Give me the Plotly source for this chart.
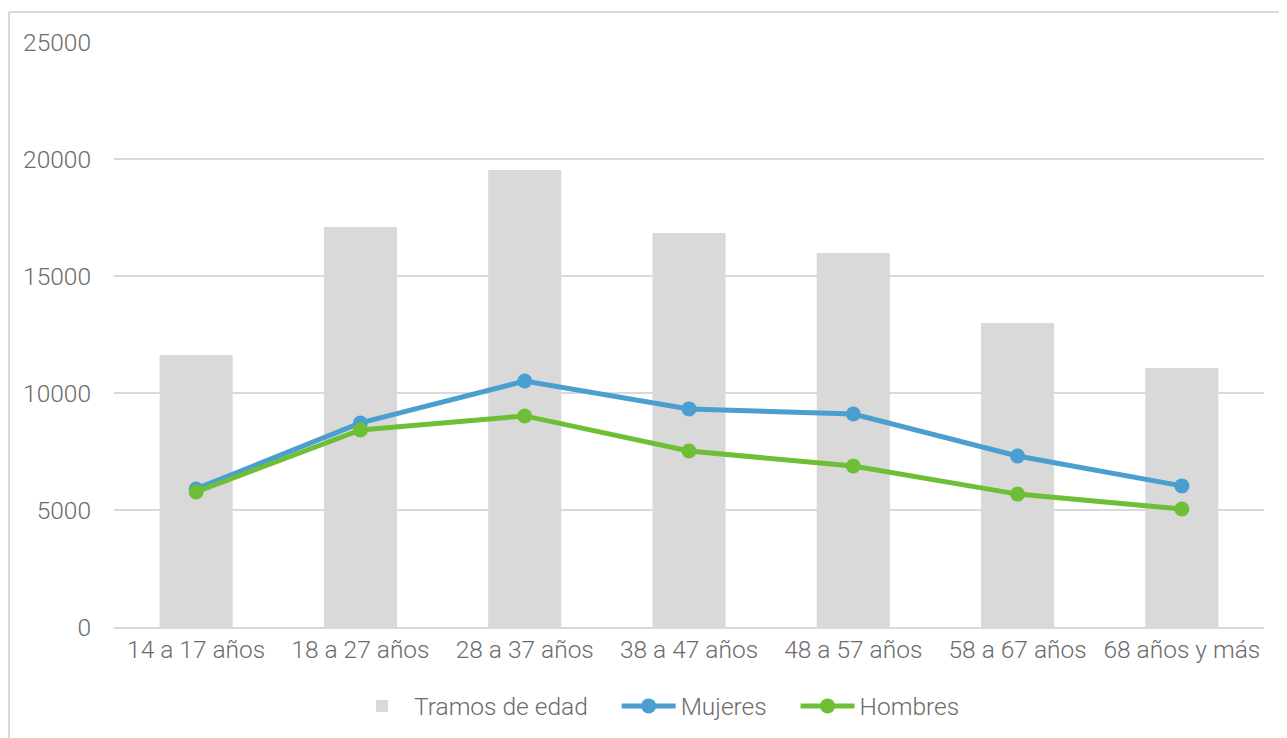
import plotly.graph_objects as go

categorias = ["14 a 17 años", "18 a 27 años", "28 a 37 años", "38 a 47 años",
              "48 a 57 años", "58 a 67 años", "68 años y más"]
tramos = [11620, 17090, 19530, 16840, 15980, 12990, 11070]
mujeres = [5900, 8720, 10510, 9320, 9100, 7310, 6030]
hombres = [5770, 8420, 9020, 7520, 6880, 5680, 5040]
y_ticks = [0, 5000, 10000, 15000, 20000, 25000]

W, H = 1287, 738
OFF = 8  # page body margin
L, R, T, B = 114 - OFF, 23 + OFF, 42 - OFF, 111 + OFF
FS = 24.5
FONT = dict(family="Roboto", size=FS, color="#6b6b6b", weight=300)
GAP = "\u00a0" * 4

fig = go.Figure()
fig.add_trace(go.Bar(x=categorias, y=tramos, name="Tramos de edad" + GAP,
                     marker=dict(color="#d9d9d9", line=dict(width=0)), width=0.445))
fig.add_trace(go.Scatter(x=categorias, y=mujeres, name="Mujeres" + GAP, mode="lines+markers",
                         line=dict(color="#4a9fd0", width=5),
                         marker=dict(color="#4a9fd0", size=15)))
fig.add_trace(go.Scatter(x=categorias, y=hombres, name="Hombres", mode="lines+markers",
                         line=dict(color="#6fbf36", width=5),
                         marker=dict(color="#6fbf36", size=15)))

pw = W - L - R
ph = H - T - B
bx = (9 - OFF - L) / pw
by = 1 + (T - (12 - OFF)) / ph
fig.add_shape(type="line", xref="paper", yref="paper",
              x0=bx, x1=bx, y0=by, y1=-(B + 20) / ph,
              line=dict(color="#d9d9d9", width=2))
fig.add_shape(type="line", xref="paper", yref="paper",
              x0=bx, x1=(W + 20 - L) / pw, y0=by, y1=by,
              line=dict(color="#d9d9d9", width=2))

fig.update_layout(
    width=W, height=H,
    margin=dict(l=L, r=R, t=T, b=B),
    paper_bgcolor="white", plot_bgcolor="white",
    font=FONT,
    showlegend=True,
    legend=dict(orientation="h", x=(965 - OFF - L) / pw, xanchor="right",
                y=-(706 - OFF - (H - B)) / ph, yanchor="middle",
                font=FONT, itemwidth=54, traceorder="normal"),
)
fig.update_xaxes(showgrid=False, showline=True, linecolor="#d9d9d9", linewidth=2,
                 ticks="", tickfont=FONT)
fig.update_yaxes(range=[0, 25000], tickvals=y_ticks, ticktext=[str(v) for v in y_ticks],
                 showgrid=True, gridcolor="#d9d9d9", gridwidth=2, zeroline=False,
                 showline=False, ticks="", ticklabelstandoff=22,
                 tickfont=FONT)

fig.write_html("out.html")
